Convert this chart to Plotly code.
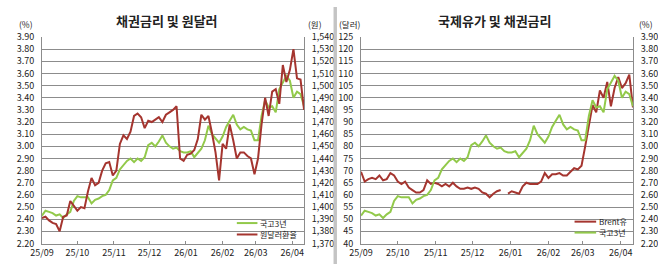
import pandas as pd
import plotly.graph_objects as go

# ---------------- data ----------------
dates = pd.date_range("2025-09-01", periods=75, freq="3D")

ktb3y = [2.43, 2.47, 2.46, 2.45, 2.43, 2.44, 2.41, 2.44, 2.46, 2.55,
         2.59, 2.58, 2.58, 2.58, 2.53, 2.56, 2.57, 2.59, 2.60, 2.64,
         2.72, 2.74, 2.81, 2.85, 2.88, 2.90, 2.87, 2.90, 2.88, 2.91,
         3.01, 3.03, 3.00, 3.04, 3.09, 3.03, 3.00, 2.98, 2.99, 2.96,
         2.95, 2.95, 2.96, 2.91, 2.95, 2.98, 3.05, 3.17, 3.10, 3.06,
         3.03, 3.08, 3.16, 3.21, 3.26, 3.18, 3.14, 3.16, 3.14, 3.13,
         3.05, 3.05, 3.25, 3.38, 3.32, 3.33, 3.28, 3.47, 3.53, 3.58,
         3.54, 3.40, 3.45, 3.43, 3.33]

usdkrw = [1391, 1392, 1389, 1387, 1386, 1380, 1392, 1393, 1405, 1401,
          1397, 1400, 1399, 1413, 1424, 1418, 1420, 1430, 1436, 1437,
          1426, 1430, 1452, 1459, 1456, 1462, 1475, 1477, 1474, 1465,
          1471, 1470, 1472, 1474, 1470, 1476, 1478, 1480, 1483, 1440,
          1438, 1443, 1444, 1447, 1456, 1476, 1472, 1475, 1461, 1445,
          1422, 1452, 1448, 1468, 1455, 1440, 1445, 1445, 1442, 1440,
          1427, 1440, 1468, 1490, 1475, 1495, 1497, 1485, 1517, 1503,
          1513, 1530, 1506, 1505, 1480]

brent = [69.5, 65.5, 66.5, 67.0, 66.5, 68.0, 66.0, 66.5, 69.0, 68.0,
         65.5, 64.5, 65.5, 63.0, 62.0, 61.0, 61.0, 62.0, 66.0, 64.5,
         65.0, 64.5, 63.5, 64.5, 63.5, 65.0, 63.5, 62.5, 62.5, 63.0,
         62.5, 63.0, 62.5, 61.0, 60.5, 59.0, 60.5, 61.5, 62.0, None,
         60.5, 61.5, 61.0, 60.5, 63.5, 65.0, 64.5, 64.5, 64.5, 65.5,
         69.0, 67.0, 68.5, 68.5, 69.0, 68.0, 68.0, 69.5, 71.0, 70.5,
         72.0, 80.0, 88.0, 97.0, 94.0, 103.0, 100.0, 106.5, 96.5, 104.0,
         108.5, 104.0, 106.0, 109.5, 96.0]

month_ticks = ["2025-09-01", "2025-10-01", "2025-11-01", "2025-12-01",
               "2026-01-01", "2026-02-01", "2026-03-01", "2026-04-01"]
month_labels = ["25/09", "25/10", "25/11", "25/12", "26/01", "26/02", "26/03", "26/04"]

x_range = ["2025-09-01", "2026-04-11"]

# ---------------- styles ----------------
W, H = 658, 270
GREEN = "#92C94A"
RED = "#A5352F"
GRID = "#8C8C8C"
TXT = "#222222"
FONT = "Noto Sans CJK KR"

def px(x):
    return x / W

def py(y):
    return (H - y) / H

L1, R1 = px(30.5), px(297.5)
L2, R2 = px(355.5), px(632.5)
B, T = py(248.5), py(31.5)

fig = go.Figure()
fig.add_trace(go.Scatter(x=dates, y=ktb3y, xaxis="x", yaxis="y", mode="lines",
                         line=dict(color=GREEN, width=2), name="국고3년"))
fig.add_trace(go.Scatter(x=dates, y=usdkrw, xaxis="x", yaxis="y2", mode="lines",
                         line=dict(color=RED, width=2), name="원달러환율"))
fig.add_trace(go.Scatter(x=dates, y=brent, xaxis="x2", yaxis="y3", mode="lines",
                         line=dict(color=RED, width=2), name="Brent유"))
fig.add_trace(go.Scatter(x=dates, y=ktb3y, xaxis="x2", yaxis="y4", mode="lines",
                         line=dict(color=GREEN, width=2), name="국고3년"))

xcommon = dict(type="date", range=x_range, tickvals=month_ticks, ticktext=month_labels,
               showgrid=False, showline=True, linecolor=GRID, linewidth=1,
               ticks="inside", ticklen=3, tickcolor=GRID, zeroline=False,
               tickfont=dict(size=9, color=TXT, family=FONT), ticklabelstandoff=1)
ycommon = dict(showline=True, linecolor=GRID, linewidth=1, zeroline=False,
               ticks="", tickfont=dict(size=9, color=TXT, family=FONT),
               ticklabelstandoff=5)

fig.update_layout(
    width=W, height=H, autosize=False,
    margin=dict(l=0, r=0, t=0, b=0),
    paper_bgcolor="white", plot_bgcolor="white",
    showlegend=False,
    font=dict(family=FONT, color=TXT),
    xaxis=dict(domain=[L1, R1], anchor="y", **xcommon),
    yaxis=dict(domain=[B, T], anchor="x", range=[2.1995, 3.9005], tick0=2.2, dtick=0.1,
               tickformat=".2f", showgrid=True, gridcolor=GRID, gridwidth=1, **ycommon),
    yaxis2=dict(overlaying="y", side="right", anchor="x", range=[1369.95, 1540.05],
                tick0=1370, dtick=10, tickformat=",d", showgrid=False, **ycommon),
    xaxis2=dict(domain=[L2, R2], anchor="y3", **xcommon),
    yaxis3=dict(domain=[B, T], anchor="x2", range=[39.97, 125.03], tick0=40, dtick=5,
                showgrid=True, gridcolor=GRID, gridwidth=1, **ycommon),
    yaxis4=dict(overlaying="y3", side="right", anchor="x2", range=[2.1995, 3.9005],
                tick0=2.2, dtick=0.1, tickformat=".2f", showgrid=False, **ycommon),
)

# titles and unit labels
def ann(text, x, y, size=9, bold=False, xanchor="center"):
    fig.add_annotation(text=f"<b>{text}</b>" if bold else text,
                       x=px(x), y=py(y), xref="paper", yref="paper",
                       xanchor=xanchor, yanchor="middle", showarrow=False,
                       font=dict(size=size, color=TXT, family=FONT))

ann("채권금리 및 원달러", 158, 14, size=13, bold=True)
ann("국제유가 및 채권금리", 492, 14, size=13, bold=True)
ann("(%)", 14, 18, size=8.5)
ann("(원)", 309, 18, size=8.5)
ann("(달러)", 344, 18, size=8.5)
ann("(%)", 646, 18, size=8.5)

# legends
def legend_item(x0, x1, y, color, text):
    fig.add_shape(type="line", xref="paper", yref="paper",
                  x0=px(x0), x1=px(x1), y0=py(y), y1=py(y),
                  line=dict(color=color, width=2))
    ann(text, x1 + 1, y, size=8, xanchor="left")

legend_item(229, 250, 227, GREEN, "국고3년")
legend_item(229, 250, 239, RED, "원달러환율")
legend_item(573, 595, 225.5, RED, "Brent유")
legend_item(573, 595, 237, GREEN, "국고3년")

# separator between panels
fig.add_shape(type="rect", xref="paper", yref="paper",
              x0=px(327.5), x1=px(331), y0=0, y1=1,
              fillcolor="#C4C4C4", line=dict(width=0))

fig.write_html("out.html")
